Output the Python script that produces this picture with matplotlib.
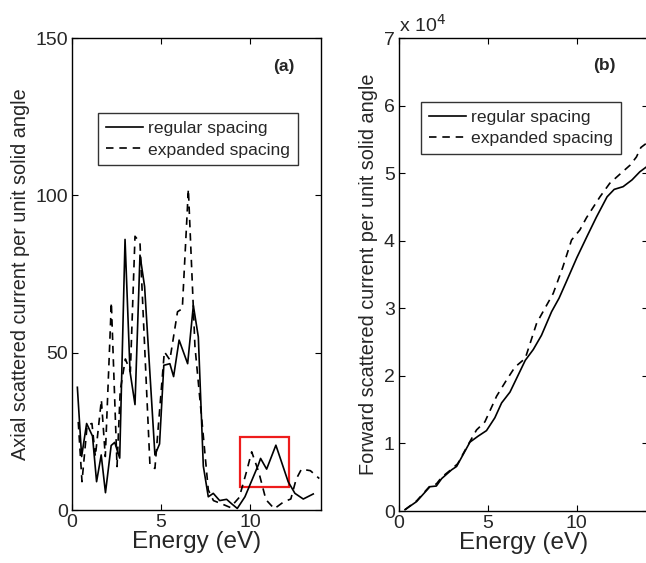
import matplotlib
matplotlib.use("Agg")
import matplotlib.pyplot as plt
from matplotlib.patches import Rectangle

plt.rcParams["font.family"] = ["Liberation Sans", "DejaVu Sans"]

# ---- panel (a): axial scattered current ----
e_reg_a = [0.30, 0.54, 0.82, 1.15, 1.38, 1.64, 1.88, 2.20, 2.40, 2.68, 2.98, 3.26,
           3.54, 3.82, 4.08, 4.66, 4.92, 5.16, 5.50, 5.71, 6.02, 6.50, 6.82, 7.10,
           7.38, 7.66, 7.94, 8.30, 8.69, 8.97, 9.29, 9.72, 10.47, 10.60, 10.94,
           11.46, 12.15, 12.53, 13.00, 13.56]
v_reg_a = [39, 17, 27.5, 23.5, 9, 17.5, 5.5, 20.5, 21.5, 16.5, 86, 44,
           33.5, 81, 71, 17.5, 21, 46, 46.5, 42.4, 54, 46.5, 65, 55,
           14, 4.2, 5.3, 3, 3.4, 2, 0.5, 4.2, 14.3, 16.4, 13,
           20.6, 9, 5.3, 3.5, 5.1]

e_exp_a = [0.35, 0.56, 0.85, 1.12, 1.31, 1.65, 1.87, 2.21, 2.53, 2.71, 3.00, 3.28,
           3.54, 3.82, 4.38, 4.66, 5.19, 5.50, 5.93, 6.20, 6.54, 6.91, 7.28, 7.66,
           7.95, 8.40, 8.90, 9.40, 9.80, 10.10, 10.50, 10.90, 11.37, 11.90, 12.30,
           12.60, 12.90, 13.40, 13.90]
v_exp_a = [28, 9, 27, 27.5, 17, 35, 17, 66, 13.8, 38, 48, 44,
           87, 85, 14.3, 13.2, 50.3, 47.7, 63, 64, 102, 52, 29.7, 6.4,
           3, 2, 0.8, 4, 12, 18.5, 12, 3.3, 0.4, 2.6, 3.5,
           9.8, 13, 12.5, 10]

# ---- panel (b): forward scattered current, units of 1e4 ----
e_reg_b = [0.34, 0.99, 1.74, 2.10, 2.40, 2.96, 3.24, 3.99, 4.46, 4.92, 5.39, 5.77,
           6.24, 7.10, 7.55, 8.01, 8.58, 9.00, 9.42, 10.00, 10.60, 11.10, 11.70,
           12.10, 12.60, 13.10, 13.54, 13.95]
v_reg_b = [0.02, 0.14, 0.36, 0.37, 0.48, 0.61, 0.66, 1.02, 1.11, 1.19, 1.38, 1.60,
           1.76, 2.23, 2.39, 2.60, 2.95, 3.15, 3.40, 3.75, 4.08, 4.35, 4.65,
           4.76, 4.80, 4.90, 5.02, 5.10]

e_exp_b = [0.34, 0.99, 1.74, 2.10, 2.40, 2.96, 3.30, 3.80, 4.36, 4.83, 5.49, 6.05,
           6.52, 7.10, 7.74, 8.67, 9.20, 9.70, 10.17, 10.54, 11.30, 11.85, 12.40,
           13.00, 13.35, 13.60, 13.95]
v_exp_b = [0.02, 0.15, 0.37, 0.40, 0.50, 0.62, 0.70, 0.94, 1.20, 1.32, 1.70, 1.94,
           2.13, 2.26, 2.78, 3.22, 3.60, 4.01, 4.16, 4.34, 4.65, 4.85, 4.98,
           5.12, 5.24, 5.38, 5.45]

labels = ["regular spacing", "expanded spacing"]
txt = "#262626"

fig = plt.figure(figsize=(6.46, 5.63), dpi=100)
ax1 = fig.add_axes([0.1115, 0.0941, 0.3855, 0.8384])
ax2 = fig.add_axes([0.6176, 0.0923, 0.3855, 0.8402])

dash = (0, (4.5, 3.5))
for ax in (ax1, ax2):
    ax.tick_params(direction="in", length=4, width=0.8, labelsize=14,
                   top=True, right=True, colors="k", labelcolor=txt, pad=3)
    for s in ax.spines.values():
        s.set_linewidth(1.0)
    ax.set_xlim(0, 14)
    ax.set_xticks([0, 5, 10])
    ax.set_xlabel("Energy (eV)", fontsize=17.5, color=txt, labelpad=0)

ax1.plot(e_reg_a, v_reg_a, color="k", lw=1.2, label=labels[0])
ax1.plot(e_exp_a, v_exp_a, color="k", lw=1.2, ls=dash, label=labels[1])
ax1.set_ylim(0, 150)
ax1.set_yticks([0, 50, 100, 150])
ax1.set_ylabel("Axial scattered current per unit solid angle", fontsize=14.3,
               color=txt, labelpad=4)
ax1.add_patch(Rectangle((9.44, 7.4), 2.75, 15.9, fill=False, ec="#ee1c1c", lw=1.6))
ax1.text(11.9, 141, "(a)", fontsize=12.5, fontweight="bold", ha="center", va="center",
         color=txt)

ax2.plot(e_reg_b, v_reg_b, color="k", lw=1.2, label=labels[0])
ax2.plot(e_exp_b, v_exp_b, color="k", lw=1.2, ls=dash, label=labels[1])
ax2.set_ylim(0, 7)
ax2.set_yticks(range(8))
ax2.set_ylabel("Forward scattered current per unit solid angle", fontsize=14.3,
               color=txt, labelpad=4)
ax2.text(11.57, 6.6, "(b)", fontsize=12.5, fontweight="bold", ha="center", va="center",
         color=txt)
ax2.text(0.0, 1.005, r"x 10$^4$", transform=ax2.transAxes, fontsize=14,
         color=txt, ha="left", va="bottom")

for ax, bb in ((ax1, (98, 113, 298, 163)), (ax2, (421, 102, 621, 152))):
    x0, y0, x1, y1 = bb
    leg = ax.legend(loc="upper left", fontsize=12.6, frameon=True, fancybox=False,
                    handlelength=2.1, handletextpad=0.3, borderpad=0.45,
                    labelspacing=0.35, borderaxespad=0,
                    bbox_to_anchor=(x0 / 646, 1 - y0 / 563),
                    bbox_transform=fig.transFigure)
    leg.get_frame().set_edgecolor("k")
    leg.get_frame().set_linewidth(1.0)
    for t in leg.get_texts():
        t.set_color(txt)

fig.savefig("out.png", dpi=100)
